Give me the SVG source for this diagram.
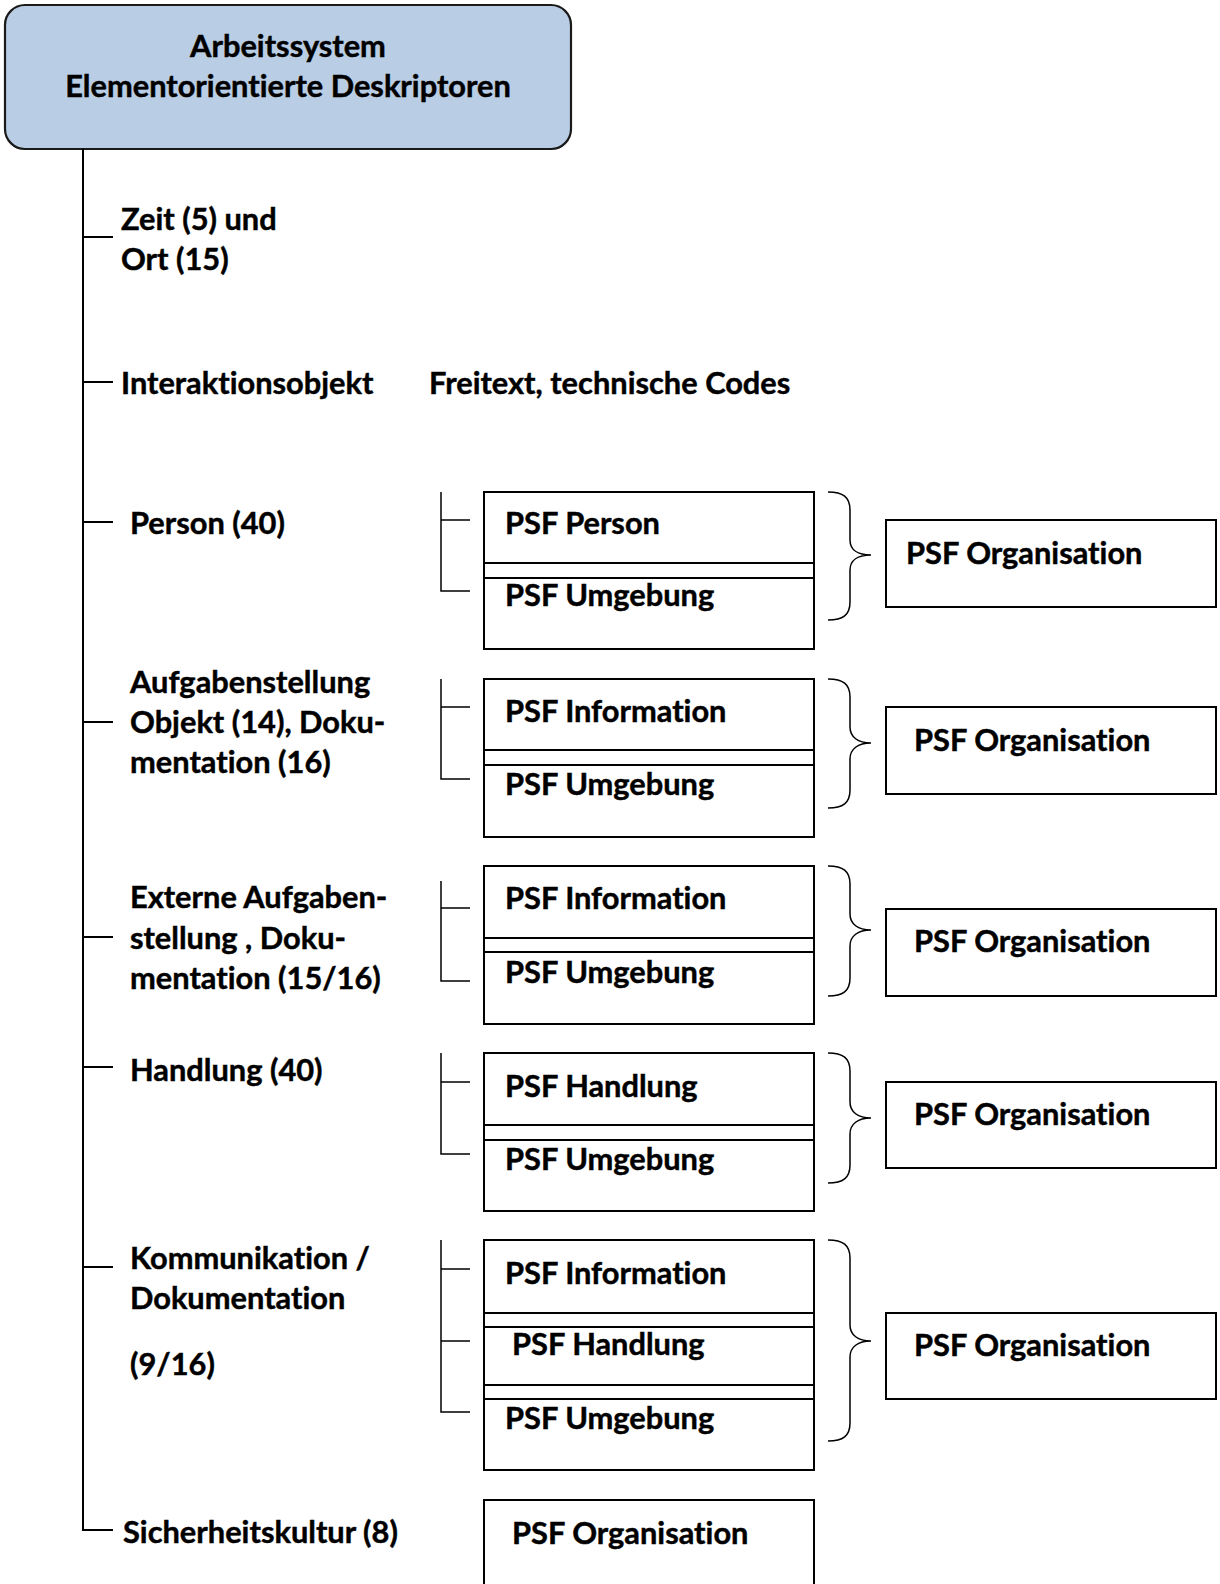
<svg xmlns="http://www.w3.org/2000/svg" width="1220" height="1584" viewBox="0 0 1220 1584">
  <style>
    text { font-family: Lato, "Open Sans", "Liberation Sans", sans-serif; font-weight: 700; font-size: 30.8px; fill: #000; stroke: #000; stroke-width: 0.45px; font-variant-ligatures: none; font-feature-settings: "liga" 0, "clig" 0; }
    .box { fill: #fff; stroke: #000; stroke-width: 2; }
    .head { fill: #b9cde4; stroke: #1a1a1a; stroke-width: 2.2; }
    .ln { fill: none; stroke: #000; stroke-width: 2; }
    .thin { fill: none; stroke: #000; stroke-width: 1.5; }
  </style>

  <!-- root node -->
  <g id="root">
    <rect class="head" x="5" y="5" width="566" height="144" rx="20" ry="20"/>
    <text x="288" y="57" text-anchor="middle">Arbeitssystem</text>
    <text x="288" y="97" text-anchor="middle">Elementorientierte Deskriptoren</text>
  </g>

  <!-- connectors: trunk, branch ticks, brackets and braces -->
  <g id="connectors">
    <path class="ln" d="M83,149 V1530 H113"/>
    <path class="ln" d="M83,237 H113 M83,382 H113 M83,522 H113 M83,722 H113 M83,937 H113 M83,1067 H113 M83,1267 H113"/>

    <path class="thin" d="M441,492 V591 H470 M441,520 H470"/>
    <path class="thin" d="M441,679 V779 H470 M441,707 H470"/>
    <path class="thin" d="M441,881 V981 H470 M441,908 H470"/>
    <path class="thin" d="M441,1053 V1154 H470 M441,1082 H470"/>
    <path class="thin" d="M441,1240 V1412 H470 M441,1269 H470 M441,1341 H470"/>

    <path class="thin" d="M828,492 C843,492 850,497 850,510 L850,540 C850,550 858,555 871,555 C858,555 850,560 850,570 L850,602 C850,615 843,620 828,620"/>
    <path class="thin" d="M828,679 C843,679 850,684 850,697 L850,727 C850,737 858,743 871,743 C858,743 850,749 850,759 L850,790 C850,803 843,808 828,808"/>
    <path class="thin" d="M828,866 C843,866 850,871 850,884 L850,914 C850,924 858,930 871,930 C858,930 850,936 850,946 L850,978 C850,991 843,996 828,996"/>
    <path class="thin" d="M828,1053 C843,1053 850,1058 850,1071 L850,1102 C850,1112 858,1118 871,1118 C858,1118 850,1124 850,1134 L850,1165 C850,1178 843,1183 828,1183"/>
    <path class="thin" d="M828,1240 C843,1240 850,1245 850,1258 L850,1325 C850,1335 858,1341 871,1341 C858,1341 850,1347 850,1357 L850,1423 C850,1436 843,1441 828,1441"/>
  </g>

  <!-- branch labels -->
  <g id="zeit-ort">
    <text x="121" y="229.5">Zeit (5) und</text>
    <text x="121" y="269.5">Ort (15)</text>
  </g>
  <g id="interaktionsobjekt">
    <text x="121" y="393.5">Interaktionsobjekt</text>
    <text x="429" y="393.5">Freitext, technische Codes</text>
  </g>
  <g id="person">
    <text x="130" y="533.5">Person (40)</text>
  </g>
  <g id="aufgabenstellung">
    <text x="130" y="693">Aufgabenstellung</text>
    <text x="130" y="733">Objekt (14), Doku-</text>
    <text x="130" y="772.5">mentation (16)</text>
  </g>
  <g id="externe-aufgabenstellung">
    <text x="130" y="907.5">Externe Aufgaben-</text>
    <text x="130" y="948.5">stellung , Doku-</text>
    <text x="130" y="988.5">mentation (15/16)</text>
  </g>
  <g id="handlung">
    <text x="130" y="1080.5">Handlung (40)</text>
  </g>
  <g id="kommunikation">
    <text x="130" y="1269">Kommunikation /</text>
    <text x="130" y="1309">Dokumentation</text>
    <text x="130" y="1375">(9/16)</text>
  </g>
  <g id="sicherheitskultur">
    <text x="123" y="1543">Sicherheitskultur (8)</text>
  </g>

  <!-- PSF stacks -->
  <g id="psf-person">
    <rect class="box" x="484" y="492" width="330" height="157"/>
    <line class="ln" x1="484" y1="563" x2="814" y2="563"/>
    <line class="ln" x1="484" y1="578" x2="814" y2="578"/>
    <text x="505" y="533.5">PSF Person</text>
    <text x="505" y="605.5">PSF Umgebung</text>
  </g>
  <g id="psf-aufgabe">
    <rect class="box" x="484" y="679" width="330" height="158"/>
    <line class="ln" x1="484" y1="750" x2="814" y2="750"/>
    <line class="ln" x1="484" y1="765" x2="814" y2="765"/>
    <text x="505" y="721.5">PSF Information</text>
    <text x="505" y="795">PSF Umgebung</text>
  </g>
  <g id="psf-extern">
    <rect class="box" x="484" y="866" width="330" height="158"/>
    <line class="ln" x1="484" y1="938" x2="814" y2="938"/>
    <line class="ln" x1="484" y1="952" x2="814" y2="952"/>
    <text x="505" y="908.5">PSF Information</text>
    <text x="505" y="982.5">PSF Umgebung</text>
  </g>
  <g id="psf-handlung">
    <rect class="box" x="484" y="1053" width="330" height="158"/>
    <line class="ln" x1="484" y1="1125" x2="814" y2="1125"/>
    <line class="ln" x1="484" y1="1140" x2="814" y2="1140"/>
    <text x="505" y="1096.5">PSF Handlung</text>
    <text x="505" y="1169.5">PSF Umgebung</text>
  </g>
  <g id="psf-kommunikation">
    <rect class="box" x="484" y="1240" width="330" height="230"/>
    <line class="ln" x1="484" y1="1313" x2="814" y2="1313"/>
    <line class="ln" x1="484" y1="1327" x2="814" y2="1327"/>
    <line class="ln" x1="484" y1="1385" x2="814" y2="1385"/>
    <line class="ln" x1="484" y1="1399" x2="814" y2="1399"/>
    <text x="505" y="1283.5">PSF Information</text>
    <text x="512" y="1355">PSF Handlung</text>
    <text x="505" y="1428.5">PSF Umgebung</text>
  </g>
  <g id="psf-sicherheitskultur">
    <rect class="box" x="484" y="1500" width="330" height="100"/>
    <text x="512" y="1543.5">PSF Organisation</text>
  </g>

  <!-- organisation boxes -->
  <g id="org-1">
    <rect class="box" x="886" y="520" width="330" height="87"/>
    <text x="906" y="564">PSF Organisation</text>
  </g>
  <g id="org-2">
    <rect class="box" x="886" y="707" width="330" height="87"/>
    <text x="914" y="751">PSF Organisation</text>
  </g>
  <g id="org-3">
    <rect class="box" x="886" y="909" width="330" height="87"/>
    <text x="914" y="952">PSF Organisation</text>
  </g>
  <g id="org-4">
    <rect class="box" x="886" y="1082" width="330" height="86"/>
    <text x="914" y="1125">PSF Organisation</text>
  </g>
  <g id="org-5">
    <rect class="box" x="886" y="1313" width="330" height="86"/>
    <text x="914" y="1355.5">PSF Organisation</text>
  </g>
</svg>
